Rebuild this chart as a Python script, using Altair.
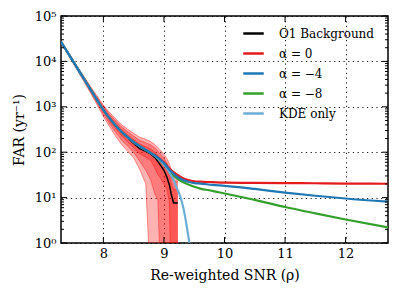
import altair as alt
import pandas as pd

FONT = "DejaVu Serif"

# ---- O1 background (measured FAR) and its error bands ----
bg_x = [7.30, 7.40, 7.50, 7.60, 7.70, 7.80, 7.90, 8.00, 8.10, 8.20, 8.30, 8.40, 8.50,
        8.60, 8.70, 8.78, 8.85, 8.90, 8.95, 9.00, 9.05, 9.09, 9.12, 9.16, 9.23]
bg_far = [27000, 16500, 10000, 6100, 3715, 2260, 1380, 851, 560, 385, 275, 205, 155,
          120, 104, 92, 76, 62, 50, 40, 28, 19, 12, 7.6, 7.6]
lo3 = [25600, 15440, 9170, 5450, 3200, 1880, 1080, 610, 370, 228, 148, 105, 75,
       42, 20, 0.1, 0.1, 0.1, 0.1, 0.1, 0.1, 0.1, 0.1, 0.1, 0.1]
hi3 = [28400, 17560, 10830, 6750, 4230, 2640, 1700, 1090, 755, 545, 405, 320, 262,
       214, 192, 172, 148, 127, 108, 90, 72, 55, 41, 28, 28]
lo2 = [26100, 15790, 9450, 5670, 3370, 2000, 1180, 690, 430, 278, 186, 135, 100,
       63, 40, 25, 12, 9, 0.1, 0.1, 0.1, 0.1, 0.1, 0.1, 0.1]
hi2 = [27900, 17210, 10550, 6530, 4060, 2520, 1580, 1010, 690, 492, 362, 282, 226,
       182, 162, 145, 124, 105, 89, 75, 57, 43, 31, 23, 23]
lo1 = [26550, 16150, 9720, 5880, 3540, 2130, 1280, 770, 495, 330, 230, 168, 125,
       92, 78, 66, 45, 32, 26, 20, 15, 8, 0.1, 0.1, 0.1]
hi1 = [27450, 16850, 10280, 6320, 3890, 2390, 1480, 930, 625, 438, 318, 243, 190,
       150, 133, 118, 100, 84, 70, 57, 43, 31, 21.5, 15, 15]

# ---- model curves ----
curve_x = [7.30, 7.50, 7.70, 7.90, 8.00, 8.10, 8.20, 8.30, 8.40, 8.50, 8.60, 8.70, 8.80,
           8.90, 9.00, 9.10, 9.20, 9.30, 9.40, 9.50, 9.60, 9.80, 10.0, 10.5, 11.0, 11.5, 12.0, 12.7]
far_a0 = [26900, 10000, 3715, 1380, 851, 562, 389, 282, 214, 166, 135, 112, 93,
          77, 60, 42.7, 33.1, 27.5, 24.5, 22.9, 22.4, 21.9, 21.4, 21.1, 20.9, 20.7, 20.4, 20.2]
far_a4 = [26900, 10000, 3715, 1380, 851, 562, 389, 282, 214, 166, 135, 112, 93,
          76, 57.5, 39.8, 30.2, 25.1, 22.4, 20.9, 20.4, 19.1, 18.2, 15.5, 12.9, 11.0, 9.55, 8.13]
far_a8 = [26900, 10000, 3715, 1380, 851, 562, 389, 282, 214, 166, 135, 112, 93,
          72.4, 53.7, 37.2, 27.5, 22.4, 19.5, 17.4, 15.8, 14.1, 12.3, 8.9, 6.2, 4.5, 3.3, 2.2]
kde_x = [7.30, 7.50, 7.70, 7.90, 8.00, 8.10, 8.20, 8.30, 8.40, 8.50, 8.60, 8.70, 8.80,
         8.90, 9.00, 9.05, 9.10, 9.16, 9.20, 9.27, 9.32, 9.36, 9.39, 9.42, 9.45]
far_kde = [26900, 10000, 3715, 1380, 851, 562, 389, 282, 214, 166, 135, 112, 93,
           74, 53.7, 43.7, 33.9, 24.5, 17.8, 10.5, 6.0, 3.2, 1.8, 1.0, 0.5]

series_names = ["O1 Background", "α = 0", "α = −4", "α = −8", "KDE only"]
series_colors = ["#000000", "#e41a1c", "#1f78b4", "#33a02c", "#6baed6"]

x_major = [8, 9, 10, 11, 12]
y_major = [1, 10, 100, 1000, 10000, 100000]
y_minor = [k * 10 ** e for e in range(0, 5) for k in range(2, 10)]

W, H = 327, 227

xs = alt.Scale(domain=[7.3, 12.7], nice=False, zero=False)
ys = alt.Scale(type="log", domain=[1, 100000], nice=False)
cs = alt.Scale(domain=series_names, range=series_colors)

legend = alt.Legend(orient="none", legendX=181, legendY=6, title=None,
                    symbolType="stroke", symbolSize=420, symbolStrokeWidth=2.5,
                    labelFont=FONT, labelFontSize=12, labelColor="black",
                    labelOffset=14, rowPadding=2, padding=0, labelLimit=300)

xaxis = alt.Axis(values=x_major, format="d", title="Re-weighted SNR (ρ)", grid=True,
                 gridDash=[1.2, 3.5], gridColor="black", gridOpacity=0.9, gridWidth=1,
                 ticks=False, domain=False, labelFont=FONT, labelFontSize=13,
                 labelColor="black", labelPadding=4, titleFont=FONT, titleFontSize=14,
                 titleFontWeight="normal", titleColor="black", titlePadding=8)
yaxis = alt.Axis(values=y_major, title="FAR (yr⁻¹)", grid=True,
                 gridDash=[1.2, 3.5], gridColor="black", gridOpacity=0.9, gridWidth=1,
                 ticks=False, domain=False, labelFont=FONT, labelFontSize=13,
                 labelColor="black", labelPadding=5,
                 labelExpr="'10' + ['⁰','¹','²','³','⁴','⁵'][round(log(datum.value)/LN10)]",
                 titleFont=FONT, titleFontSize=14, titleFontWeight="normal",
                 titleColor="black", titlePadding=8)

band_df = pd.DataFrame({"x": bg_x, "lo3": lo3, "hi3": hi3, "lo2": lo2, "hi2": hi2,
                        "lo1": lo1, "hi1": hi1})

layers = []
# shaded bands
for lo, hi in [("lo3", "hi3"), ("lo2", "hi2"), ("lo1", "hi1")]:
    layers.append(
        alt.Chart(band_df).mark_area(color="#ff0000", opacity=0.3, clip=True,
                                     interpolate="linear").encode(
            x=alt.X("x:Q", scale=xs, axis=xaxis),
            y=alt.Y(f"{lo}:Q", scale=ys, axis=yaxis),
            y2=f"{hi}:Q"))
# band edges
for col in ["lo3", "hi3", "lo2", "hi2", "lo1", "hi1"]:
    layers.append(
        alt.Chart(band_df).mark_line(color="#ff1010", opacity=0.55, strokeWidth=0.8,
                                     clip=True).encode(
            x=alt.X("x:Q", scale=xs),
            y=alt.Y(f"{col}:Q", scale=ys)))

def line_df(xv, yv, name):
    return pd.DataFrame({"x": xv, "far": yv, "series": name})

bg_df = line_df(bg_x, bg_far, series_names[0])
layers.append(
    alt.Chart(bg_df).mark_line(strokeWidth=1.5, clip=True).encode(
        x=alt.X("x:Q", scale=xs), y=alt.Y("far:Q", scale=ys),
        color=alt.Color("series:N", scale=cs, legend=legend)))

for xv, yv, name in [(curve_x, far_a0, series_names[1]),
                     (curve_x, far_a8, series_names[3]),
                     (kde_x, far_kde, series_names[4]),
                     (curve_x, far_a4, series_names[2])]:
    layers.append(
        alt.Chart(line_df(xv, yv, name)).mark_line(strokeWidth=2.2, clip=True,
                                                     interpolate="monotone").encode(
            x=alt.X("x:Q", scale=xs), y=alt.Y("far:Q", scale=ys),
            color=alt.Color("series:N", scale=cs, legend=legend)))

# inward tick marks (matplotlib style) on all four sides
xt = pd.DataFrame({"v": x_major})
ytM = pd.DataFrame({"v": y_major})
ytm = pd.DataFrame({"v": y_minor})
tick_style = dict(color="black", strokeWidth=1)
layers += [
    alt.Chart(xt).mark_rule(**tick_style).encode(x=alt.X("v:Q", scale=xs), y=alt.value(H), y2=alt.value(H - 6)),
    alt.Chart(xt).mark_rule(**tick_style).encode(x=alt.X("v:Q", scale=xs), y=alt.value(0), y2=alt.value(6)),
    alt.Chart(ytM).mark_rule(**tick_style).encode(y=alt.Y("v:Q", scale=ys), x=alt.value(0), x2=alt.value(6)),
    alt.Chart(ytM).mark_rule(**tick_style).encode(y=alt.Y("v:Q", scale=ys), x=alt.value(W), x2=alt.value(W - 6)),
    alt.Chart(ytm).mark_rule(**tick_style).encode(y=alt.Y("v:Q", scale=ys), x=alt.value(0), x2=alt.value(3)),
    alt.Chart(ytm).mark_rule(**tick_style).encode(y=alt.Y("v:Q", scale=ys), x=alt.value(W), x2=alt.value(W - 3)),
]

chart = alt.layer(*layers).properties(
    width=W, height=H,
    autosize=alt.AutoSizeParams(type="none"),
    padding={"left": 53, "top": 8, "right": 2, "bottom": 45},
    background="white",
).configure(font=FONT).configure_view(stroke="black", strokeWidth=1.5)

chart.save("out.html", embed_options={"renderer": "svg", "actions": False})
